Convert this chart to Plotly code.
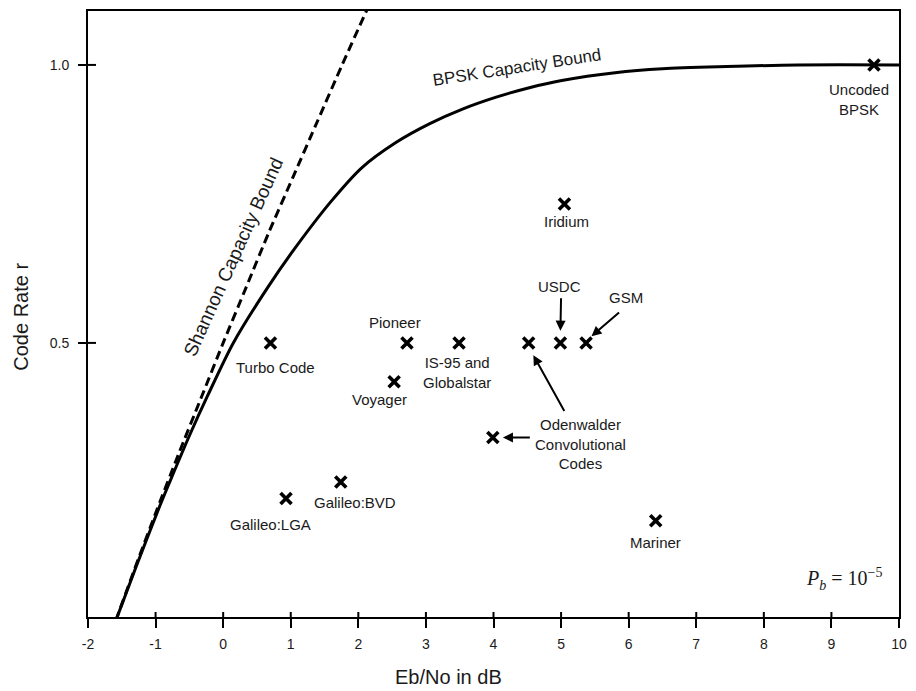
import plotly.graph_objects as go

# ---- data ----
shannon_ebno = [-1.59, -1.29, -0.98, -0.66, -0.33, 0.00, 0.34, 0.68, 1.04, 1.40, 1.76, 2.13]
shannon_rate = [0.00, 0.10, 0.20, 0.30, 0.40, 0.50, 0.60, 0.70, 0.80, 0.90, 1.00, 1.10]

bpsk_ebno = [-1.59, -1.28, -0.96, -0.79, -0.50, -0.23, 0.15, 0.66, 1.06, 1.60, 2.05,
             2.55, 3.05, 3.55, 4.04, 4.53, 5.01, 5.80, 6.50, 7.45, 8.50, 10.2]
bpsk_rate = [0.000, 0.100, 0.200, 0.250, 0.333, 0.405, 0.500, 0.600, 0.670, 0.755, 0.815,
             0.860, 0.894, 0.921, 0.942, 0.959, 0.972, 0.986, 0.993, 0.997, 1.000, 1.000]

codes = ["Turbo Code", "Galileo:LGA", "Galileo:BVD", "Voyager", "Pioneer",
         "IS-95 and<br>Globalstar", "Odenwalder A", "USDC", "GSM", "Odenwalder B",
         "Iridium", "Mariner", "Uncoded<br>BPSK"]
code_ebno = [0.70, 0.93, 1.74, 2.53, 2.72, 3.49, 4.52, 4.99, 5.37, 3.99, 5.05, 6.40, 9.63]
code_rate = [0.50, 0.22, 0.25, 0.43, 0.50, 0.50, 0.50, 0.50, 0.50, 0.33, 0.75, 0.18, 1.00]

x_ticks = [-2, -1, 0, 1, 2, 3, 4, 5, 6, 7, 8, 9, 10]
x_ticklabels = ["-2", "-1", "0", "1", "2", "3", "4", "5", "6", "7", "8", "9", "10"]
y_ticks = [0.5, 1.0]
y_ticklabels = ["0.5", "1.0"]

FONT = "Liberation Sans, Arial, sans-serif"
INK = "#1a1a1a"
LBL = 15

fig = go.Figure()
fig.add_trace(go.Scatter(x=shannon_ebno, y=shannon_rate, mode="lines",
                         line=dict(color="black", width=3, dash="9px,5px", shape="spline", smoothing=0.6),
                         hoverinfo="skip", showlegend=False))
fig.add_trace(go.Scatter(x=bpsk_ebno, y=bpsk_rate, mode="lines",
                         line=dict(color="black", width=3, shape="spline", smoothing=0.8),
                         hoverinfo="skip", showlegend=False))
fig.add_trace(go.Scatter(x=code_ebno, y=code_rate, mode="markers",
                         marker=dict(symbol="x-thin", size=11, line=dict(color="black", width=3.6)),
                         text=codes, hoverinfo="text", showlegend=False, cliponaxis=False))

# point labels: (index, text, xshift, yshift)
labels = [
    (0, "Turbo Code", 5, -25),
    (1, "Galileo:LGA", -16, -26),
    (2, "Galileo:BVD", 14, -21),
    (3, "Voyager", -15, -18),
    (4, "Pioneer", -12, 20),
    (5, "IS-95 and<br>Globalstar", -2, -30),
    (10, "Iridium", 2, -18),
    (11, "Mariner", 0, -22),
    (12, "Uncoded<br>BPSK", -15, -35),
]
ann = []
for i, t, xs, ys in labels:
    ann.append(dict(x=code_ebno[i], y=code_rate[i], xref="x", yref="y", text=t,
                    showarrow=False, xshift=xs, yshift=ys,
                    font=dict(family=FONT, size=LBL, color=INK), align="center"))

# callout texts
ann.append(dict(x=4.97, y=0.602, xref="x", yref="y", text="USDC", showarrow=False,
                font=dict(family=FONT, size=LBL, color=INK)))
ann.append(dict(x=5.96, y=0.581, xref="x", yref="y", text="GSM", showarrow=False,
                font=dict(family=FONT, size=LBL, color=INK)))
ann.append(dict(x=5.28, y=0.318, xref="x", yref="y",
                text="Odenwalder<br>Convolutional<br>Codes", showarrow=False,
                font=dict(family=FONT, size=LBL, color=INK), align="center"))

# arrows
arrows = [
    ((5.00, 0.583), (code_ebno[7], code_rate[7] + 0.022)),
    ((5.88, 0.557), (code_ebno[8] + 0.08, code_rate[8] + 0.012)),
    ((5.06, 0.375), (code_ebno[6] + 0.07, code_rate[6] - 0.022)),
    ((4.56, code_rate[9]), (code_ebno[9] + 0.15, code_rate[9])),
]
for (x0, y0), (x1, y1) in arrows:
    ann.append(dict(x=x1, y=y1, ax=x0, ay=y0, xref="x", yref="y", axref="x", ayref="y",
                    text="", showarrow=True, arrowhead=2, arrowsize=1, arrowwidth=2,
                    arrowcolor="black", standoff=0))

# curve labels
ann.append(dict(x=0.15, y=0.656, xref="x", yref="y", text="Shannon Capacity Bound",
                showarrow=False, textangle=-65.7,
                font=dict(family=FONT, size=19, color=INK)))
ann.append(dict(x=4.35, y=0.995, xref="x", yref="y", text="BPSK Capacity Bound",
                showarrow=False, textangle=-8.8,
                font=dict(family=FONT, size=17, color=INK)))
ann.append(dict(x=9.18, y=0.075, xref="x", yref="y",
                text="<i>P</i><sub><i>b</i></sub> = 10<sup>−5</sup>",
                showarrow=False, font=dict(family="Liberation Serif, Times New Roman, serif", size=20, color=INK)))

# axis titles
ann.append(dict(x=0.444, y=-0.099, xref="paper", yref="paper", text="Eb/No in dB",
                showarrow=False, xanchor="center", yanchor="middle",
                font=dict(family=FONT, size=20, color=INK)))
ann.append(dict(x=-0.083, y=0.495, xref="paper", yref="paper", text="Code Rate r",
                showarrow=False, textangle=-90, xanchor="center", yanchor="middle",
                font=dict(family=FONT, size=20, color=INK)))

# inner halves of ticks (ticks cross the frame)
shapes = []
for v in x_ticks[1:-1]:
    shapes.append(dict(type="line", xref="x", yref="paper", x0=v, x1=v,
                       ysizemode="pixel", yanchor=0, y0=0, y1=5,
                       line=dict(color="black", width=2)))
for v in y_ticks:
    shapes.append(dict(type="line", yref="y", xref="paper", y0=v, y1=v,
                       xsizemode="pixel", xanchor=0, x0=0, x1=8,
                       line=dict(color="black", width=2)))

fig.update_layout(
    width=916, height=691,
    margin=dict(l=88, r=9, t=9, b=74),
    paper_bgcolor="white", plot_bgcolor="white",
    annotations=ann, shapes=shapes,
    xaxis=dict(range=[-2, 10], tickmode="array", tickvals=x_ticks, ticktext=x_ticklabels,
               showgrid=False, zeroline=False, showline=True, linecolor="black", linewidth=2,
               mirror=True, ticks="outside", ticklen=9, tickwidth=2, tickcolor="black",
               ticklabelstandoff=4,
               tickfont=dict(family=FONT, size=14, color=INK)),
    yaxis=dict(range=[0.007, 1.097], tickmode="array", tickvals=y_ticks, ticktext=y_ticklabels,
               showgrid=False, zeroline=False, showline=True, linecolor="black", linewidth=2,
               mirror=True, ticks="outside", ticklen=8, tickwidth=2, tickcolor="black",
               ticklabelstandoff=6,
               tickfont=dict(family=FONT, size=14, color=INK)),
)

fig.write_html("out.html")
